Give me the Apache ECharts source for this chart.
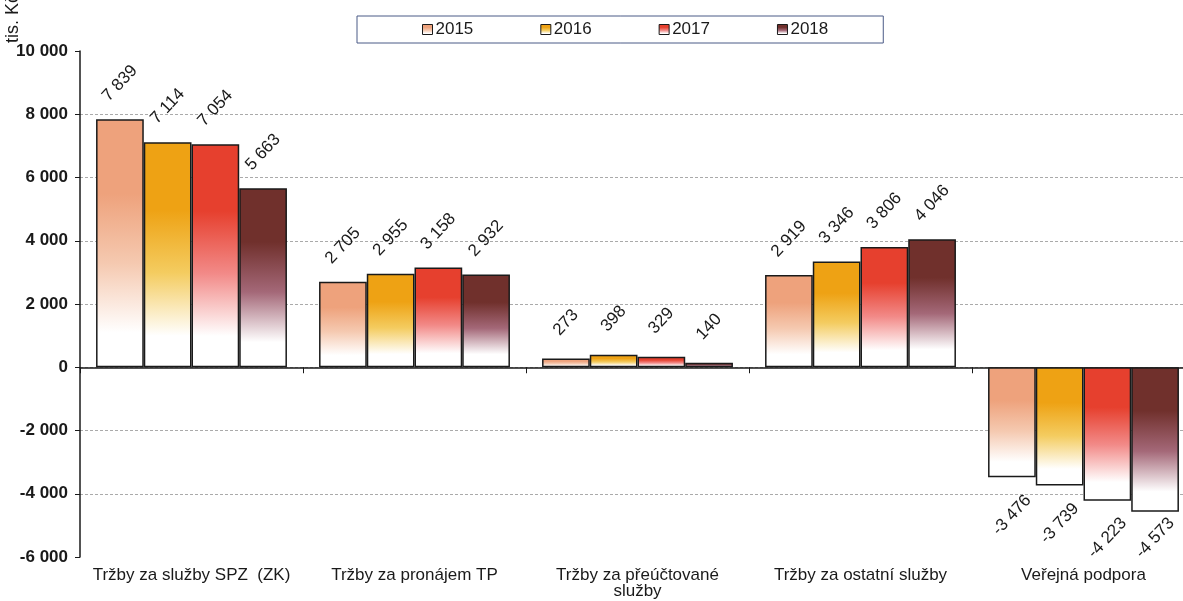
<!DOCTYPE html>
<html><head><meta charset="utf-8">
<script src="https://cdn.jsdelivr.net/npm/echarts@6/dist/echarts.min.js"></script>
<style>html,body{margin:0;padding:0;background:#fff;overflow:hidden}#c{width:1183px;height:601px}</style>
</head><body><div id="c"></div>
<script>
const categories = ['Tržby za služby SPZ  (ZK)', 'Tržby za pronájem TP', 'Tržby za přeúčtované\nslužby', 'Tržby za ostatní služby', 'Veřejná podpora'];
const years = ['2015', '2016', '2017', '2018'];
const v2015 = [7839, 2705, 273, 2919, -3476];
const v2016 = [7114, 2955, 398, 3346, -3739];
const v2017 = [7054, 3158, 329, 3806, -4223];
const v2018 = [5663, 2932, 140, 4046, -4573];
const yTicks = [-6000, -4000, -2000, 0, 2000, 4000, 6000, 8000, 10000];

const values = [v2015, v2016, v2017, v2018];
const topColors = [
  ['#eea27c', '#f5c9b0'],
  ['#eea214', '#f4cc60'],
  ['#e6402e', '#f28a88'],
  ['#70302c', '#a46878']
];
function grad(c) {
  return new echarts.graphic.LinearGradient(0, 0, 0, 1, [
    {offset: 0, color: c[0]},
    {offset: 0.3, color: c[0]},
    {offset: 0.58, color: c[1]},
    {offset: 0.86, color: '#ffffff'},
    {offset: 1, color: '#ffffff'}
  ]);
}
function fmt(v) {
  const s = Math.abs(v).toString().replace(/\B(?=(\d{3})+(?!\d))/g, ' ');
  return (v < 0 ? '-' : '') + s;
}
const font = 'Liberation Sans, Arial, sans-serif';
function buildSeries(distFn) {
  return years.map((y, i) => ({
    name: y,
    type: 'bar',
    xAxisIndex: 0,
    barGap: '0%',
    barCategoryGap: '14.4%',
    itemStyle: {color: grad(topColors[i]), borderColor: '#1a1a1a', borderWidth: 1.5},
    data: values[i].map(v => ({
      value: v,
      label: {position: v < 0 ? 'bottom' : 'top', distance: distFn(v)}
    })),
    label: {
      show: true, rotate: 47, align: 'center', verticalAlign: 'middle',
      fontFamily: font, fontSize: 17, color: '#1a1a1a',
      formatter: p => fmt(p.value)
    }
  }));
}

const chart = echarts.init(document.getElementById('c'));
chart.setOption({
  animation: false,
  backgroundColor: '#fff',
  grid: {left: 80, top: 51, right: -12, bottom: 44, containLabel: false, outerBoundsMode: 'none'},
  legend: {
    data: years, left: 357, top: 16,
    borderColor: '#4b5a86', borderWidth: 1,
    padding: [5, 55, 5, 65], itemGap: 67,
    itemWidth: 10, itemHeight: 10, icon: 'rect',
    itemStyle: {borderColor: '#1a1a1a', borderWidth: 1},
    textStyle: {fontFamily: font, fontSize: 17, color: '#1a1a1a', padding: [0, 0, 0, -2]}
  },
  xAxis: [
    {type: 'category', data: categories, position: 'bottom',
     axisLine: {onZero: true, lineStyle: {color: '#1a1a1a', width: 1.5}},
     axisTick: {show: true, length: 6, lineStyle: {color: '#1a1a1a'}},
     axisLabel: {show: false}},
    {type: 'category', data: categories, position: 'bottom',
     axisLine: {show: false, onZero: false}, axisTick: {show: false},
     axisLabel: {show: true, fontFamily: font, fontSize: 17, color: '#1a1a1a', margin: 10, lineHeight: 16, interval: 0}}
  ],
  yAxis: {
    type: 'value', min: -6000, max: 10000, interval: 2000,
    axisLine: {show: true, lineStyle: {color: '#1a1a1a', width: 1.5}},
    axisTick: {show: true, length: 5, lineStyle: {color: '#1a1a1a'}},
    axisLabel: {fontFamily: font, fontSize: 17, fontWeight: 'bold', color: '#1a1a1a', margin: 12,
      formatter: v => yTicks.indexOf(v) >= 0 ? fmt(v) : ''},
    splitLine: {show: true, showMinLine: false, showMaxLine: false, lineStyle: {color: '#aaaaaa', type: [3, 2], width: 1}}
  },
  graphic: [{
    type: 'text', x: 22, y: 43, rotation: Math.PI / 2,
    style: {text: 'tis. Kč', fontFamily: font, fontSize: 18, fill: '#1a1a1a', align: 'left', verticalAlign: 'bottom'}
  }],
  series: buildSeries(v => v < 0 ? 38 : 36)
});
// keep negative labels inside the plot, above the category labels
const limitY = chart.convertToPixel({yAxisIndex: 0}, -6000) - 19;
chart.setOption({
  series: buildSeries(v => {
    if (v >= 0) return 36;
    const py = chart.convertToPixel({yAxisIndex: 0}, v);
    return Math.min(38, limitY - py);
  })
});
</script></body></html>
